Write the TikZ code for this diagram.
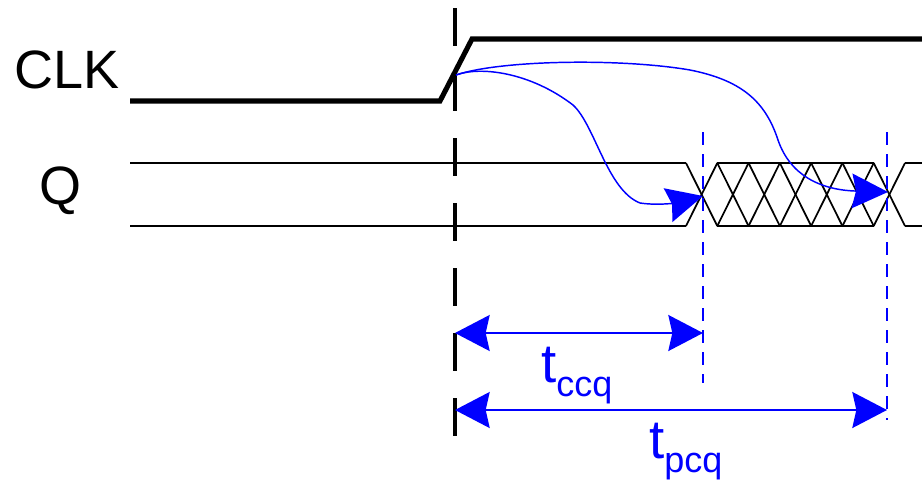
\documentclass[tikz,border=0pt]{standalone}
\usepackage{fontspec}
\setmainfont{Liberation Sans}
\usepackage{xcolor}
\usepackage{tikz}
\usetikzlibrary{arrows.meta,positioning,calc}

\definecolor{tblue}{RGB}{0,0,255}
\tikzset{
  wave/.style={line width=3.8pt,line join=miter},
  bus/.style={line width=1.3pt},
  edgeline/.style={line width=3.4pt,dash pattern=on 28.5pt off 20.25pt},
  markline/.style={tblue,line width=1.4pt,dash pattern=on 9.75pt off 6.75pt},
  delay/.style={tblue,line width=1.1pt,-{Stealth[length=27pt,width=26pt,inset=3pt]}},
  span/.style={tblue,line width=1.4pt,{Stealth[length=26pt,width=27pt,inset=3pt]}-{Stealth[length=26pt,width=27pt,inset=3pt]}},
  sig/.style={font=\fontsize{40.5}{42}\selectfont,inner sep=0pt,anchor=base west},
  tlbl/.style={tblue,font=\fontsize{41}{42}\selectfont,inner sep=0pt,anchor=base west}
}
\newcommand{\tsub}[1]{t\raisebox{-11pt}{\fontsize{27}{28}\selectfont #1}}

\begin{document}
\begin{tikzpicture}[x=0.75pt,y=-0.75pt]
  \useasboundingbox (0,0) rectangle (922,486);
  % signal names
  \node[sig] (clk) at (14,88) {CLK};
  \node[sig] (q) at (39,204) {Q};
  % clock waveform
  \coordinate (rise) at (456,75);
  \draw[wave] (130,101)--(440,101)--(472,39)--(922,39);
  % Q bus with unknown region
  \draw[bus] (130,163)--(686,163) (130,226)--(686,226);
  \foreach \k in {0,...,6}{
    \draw[bus] ({686+\k*31.286},163)--({686+(\k+1)*31.286},226);
    \draw[bus] ({686+\k*31.286},226)--({686+(\k+1)*31.286},163);
  }
  \draw[bus] (717.3,163)--(873.7,163) (717.3,226)--(873.7,226);
  \draw[bus] (905,163)--(922,163) (905,226)--(922,226);
  % clock edge and output markers
  \draw[edgeline] (455,8)--(455,440);
  \coordinate (ccq) at (703,196);
  \coordinate (pcq) at (888,192);
  \draw[markline] (703,132)--(703,383);
  \draw[markline] (887,132)--(887,420);
  % causality curves
  \draw[delay] (rise) .. controls (480,66) and (530,72) .. (573,105)
    .. controls (595,125) and (607,190) .. (640,203)
    .. controls (660,206) and (680,202) .. (ccq);
  \draw[delay] (rise) .. controls (500,60) and (620,58) .. (690,70)
    .. controls (740,80) and (765,100) .. (778,140)
    .. controls (790,175) and (820,190) .. (pcq);
  % delay spans
  \coordinate (s1l) at (455,333);
  \coordinate (s1r) at (703,333);
  \coordinate (s2l) at (455,410);
  \coordinate (s2r) at (887,410);
  \draw[span] (s1l)--(s1r);
  \draw[span] (s2l)--(s2r);
  \node[tlbl] (tccq) at (541,382) {\tsub{ccq}};
  \node[tlbl] (tpcq) at (649,458) {\tsub{pcq}};
\end{tikzpicture}
\end{document}
